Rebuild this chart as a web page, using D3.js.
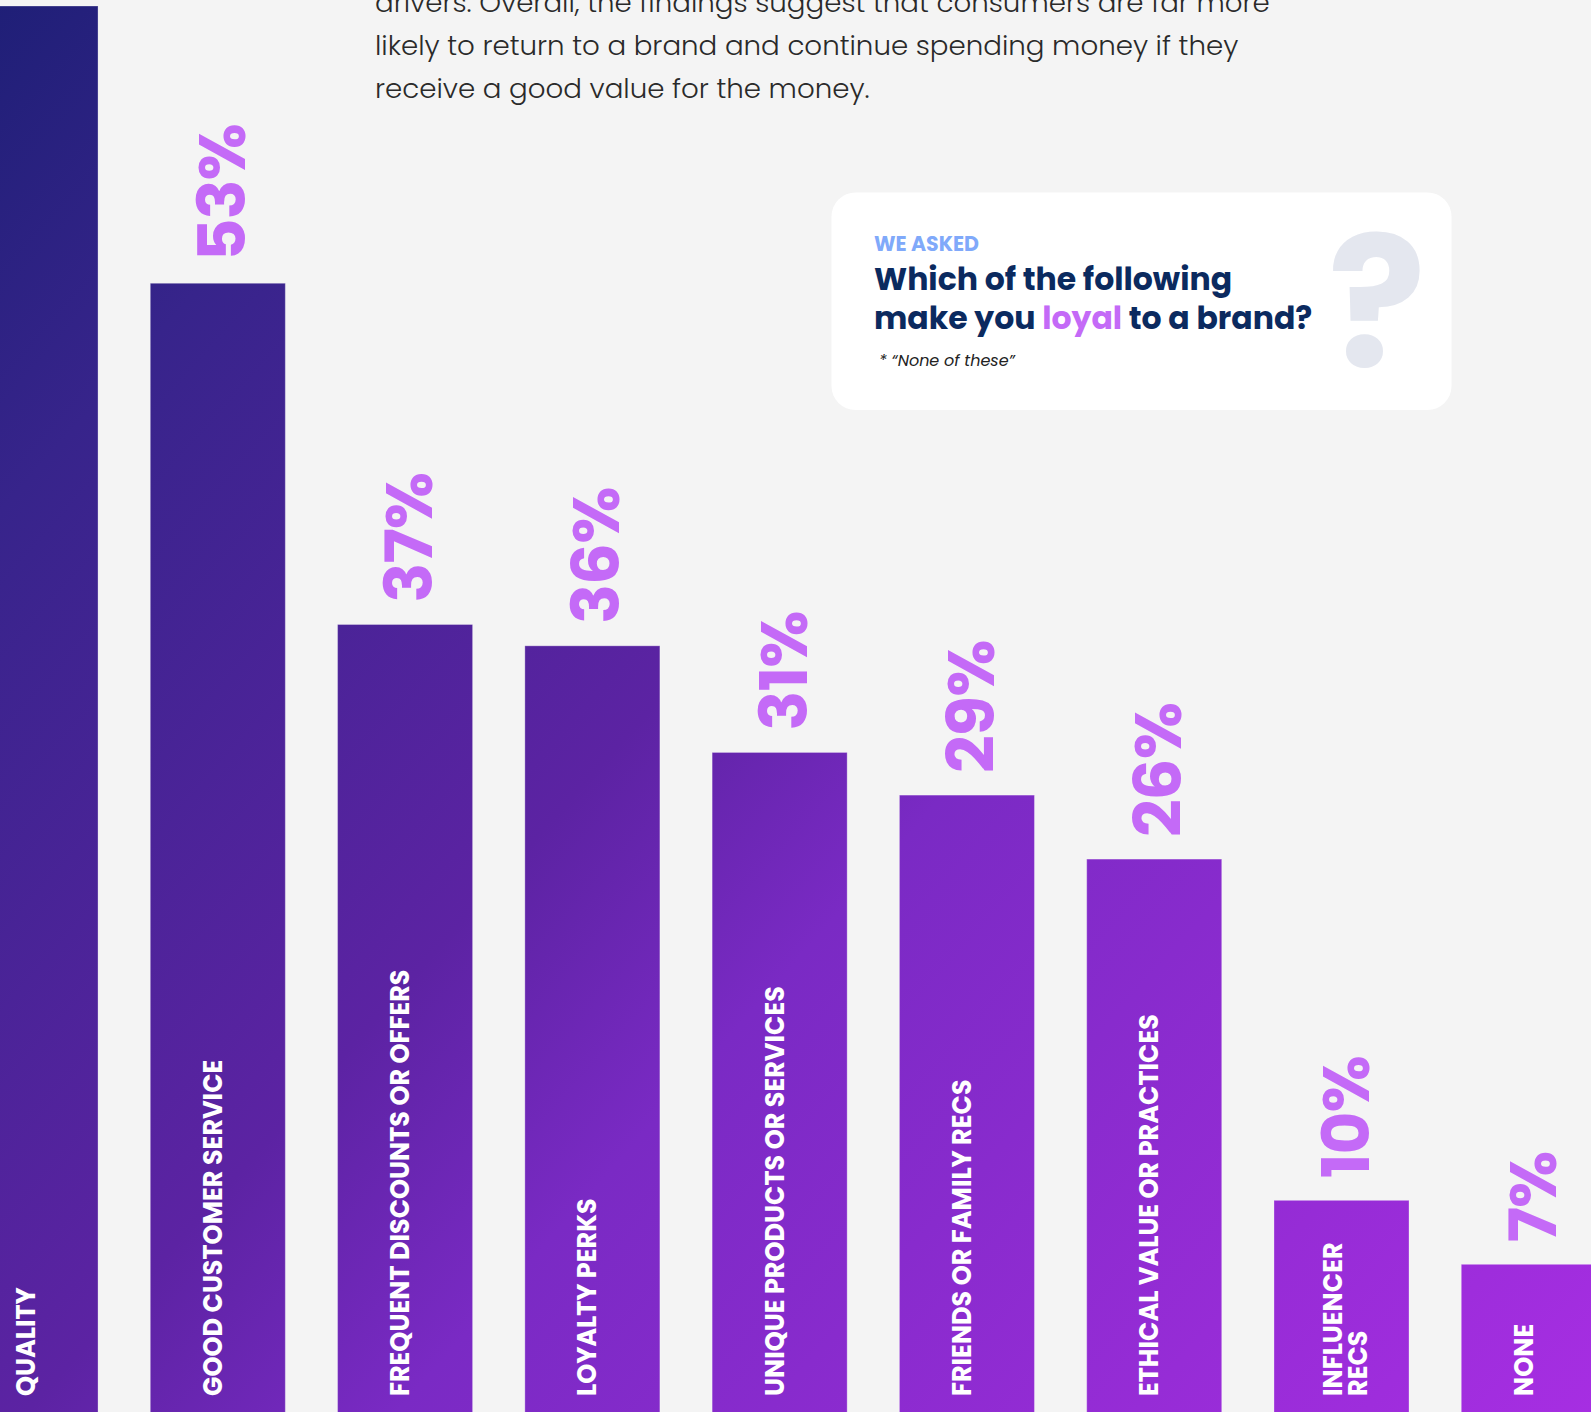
<!DOCTYPE html>
<html>
<head>
<meta charset="utf-8">
<script src="https://cdn.jsdelivr.net/npm/d3@7"></script>
<style>
  html, body { margin: 0; padding: 0; background: #f4f4f4; }
  svg { display: block; }
</style>
</head>
<body>
<script>
// Survey results: what makes consumers loyal to a brand (share of respondents, %)
const categories = [
  "QUALITY",
  "GOOD CUSTOMER SERVICE",
  "FREQUENT DISCOUNTS OR OFFERS",
  "LOYALTY PERKS",
  "UNIQUE PRODUCTS OR SERVICES",
  "FRIENDS OR FAMILY RECS",
  "ETHICAL VALUE OR PRACTICES",
  "INFLUENCER\nRECS",
  "NONE"
];
const values = [66, 53, 37, 36, 31, 29, 26, 10, 7];

const introLines = [
  "drivers. Overall, the findings suggest that consumers are far more",
  "likely to return to a brand and continue spending money if they",
  "receive a good value for the money."
];

const W = 1591, H = 1412;
const FONT = "Poppins, Inter, 'Open Sans', sans-serif";

const svg = d3.select("body").append("svg")
  .attr("width", W).attr("height", H)
  .attr("viewBox", `0 0 ${W} ${H}`);

svg.append("rect").attr("width", W).attr("height", H).attr("fill", "#f4f4f4");

// One diagonal gradient shared by every bar, running from navy to violet
const defs = svg.append("defs");
const grad = defs.append("linearGradient")
  .attr("id", "barGrad")
  .attr("gradientUnits", "userSpaceOnUse")
  .attr("x1", 0).attr("y1", 0).attr("x2", W).attr("y2", H);
[
  [0.00, "#1f1f77"],
  [0.16, "#37248b"],
  [0.45, "#5c23a3"],
  [0.58, "#7a2ac4"],
  [0.84, "#962cd6"],
  [1.00, "#a62ee2"]
].forEach(([o, c]) => grad.append("stop").attr("offset", o).attr("stop-color", c));

// Scales
const x = d3.scaleBand()
  .domain(categories)
  .range([-37, 1596.3])
  .paddingInner(0.279)
  .paddingOuter(0);

const y = d3.scaleLinear()
  .domain([0, 66])
  .range([1413.6, 6]);

// Intro paragraph
svg.append("g")
  .selectAll("text")
  .data(introLines)
  .join("text")
  .attr("x", 375)
  .attr("y", (d, i) => 11.6 + i * 43.4)
  .attr("font-family", FONT)
  .attr("font-size", 27.7)
  .attr("font-weight", 300)
  .attr("fill", "#2a2a2a")
  .text(d => d);

// Bars
const bars = svg.append("g");
bars.selectAll("rect")
  .data(values)
  .join("rect")
  .attr("x", (d, i) => x(categories[i]))
  .attr("y", d => y(d))
  .attr("width", x.bandwidth())
  .attr("height", d => y(0) - y(d))
  .attr("fill", "url(#barGrad)")
  .attr("stroke", "rgba(255,255,255,0.3)")
  .attr("stroke-width", 1);

// Value labels above the bars, reading upward
svg.append("g")
  .selectAll("text")
  .data(values)
  .join("text")
  .attr("transform", (d, i) => {
    const cx = x(categories[i]) + x.bandwidth() / 2 + 27;
    return `translate(${cx},${y(d) - 22}) rotate(-90)`;
  })
  .attr("text-anchor", "start")
  .attr("font-family", FONT)
  .attr("font-size", 66)
  .attr("font-weight", 700)
  .attr("letter-spacing", -1)
  .attr("fill", "#c46af7")
  .text(d => d + "%");

// Category labels inside the bars, reading upward from the bottom
const catG = svg.append("g");
categories.forEach((c, i) => {
  const lines = c.split("\n");
  const cx = x(c) + x.bandwidth() / 2;
  const t = catG.append("text")
    .attr("transform", `translate(${cx + 4 - (lines.length - 1) * 4},1396) rotate(-90)`)
    .attr("text-anchor", "start")
    .attr("font-family", FONT)
    .attr("font-size", 25.5)
    .attr("font-weight", 700)
    .attr("fill", "#ffffff");
  lines.forEach((ln, k) => {
    t.append("tspan")
      .attr("x", 0)
      .attr("dy", k === 0 ? 0 : 25.6)
      .text(ln);
  });
});

// Question card
const card = svg.append("g");
card.append("rect")
  .attr("x", 831.5).attr("y", 192.5)
  .attr("width", 620).attr("height", 217.5)
  .attr("rx", 24).attr("ry", 24)
  .attr("fill", "#ffffff");

card.append("text")
  .attr("x", 1377).attr("y", 366.7)
  .attr("text-anchor", "middle")
  .attr("font-family", FONT)
  .attr("font-size", 182)
  .attr("font-weight", 700)
  .attr("fill", "#e4e7ef")
  .text("?");

card.append("text")
  .attr("x", 874).attr("y", 250.7)
  .attr("font-family", FONT)
  .attr("font-size", 20.5)
  .attr("font-weight", 700)
  .attr("fill", "#80a9fa")
  .text("WE ASKED");

card.append("text")
  .attr("x", 874).attr("y", 290.3)
  .attr("font-family", FONT)
  .attr("font-size", 31.5)
  .attr("font-weight", 700)
  .attr("fill", "#0b2a5f")
  .text("Which of the following");

const q2 = card.append("text")
  .attr("x", 874).attr("y", 329.3)
  .attr("font-family", FONT)
  .attr("font-size", 31.5)
  .attr("font-weight", 700)
  .attr("fill", "#0b2a5f");
q2.append("tspan").text("make you ");
q2.append("tspan").attr("fill", "#c46af7").text("loyal");
q2.append("tspan").text(" to a brand?");

card.append("text")
  .attr("x", 879).attr("y", 366)
  .attr("font-family", FONT)
  .attr("font-size", 16)
  .attr("font-style", "italic")
  .attr("fill", "#222222")
  .text("* \u201CNone of these\u201D");
</script>
</body>
</html>
